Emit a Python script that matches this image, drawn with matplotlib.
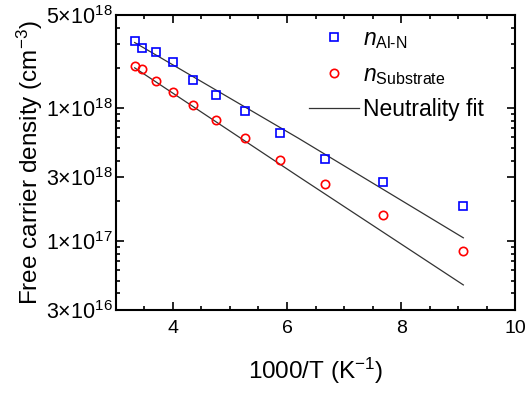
import matplotlib
matplotlib.use("Agg")
import matplotlib.pyplot as plt
import matplotlib.ticker as mticker
import numpy as np

plt.rcParams['font.family'] = ['Liberation Sans', 'DejaVu Sans']
plt.rcParams['mathtext.fontset'] = 'custom'
plt.rcParams['mathtext.rm'] = 'Liberation Sans'
plt.rcParams['mathtext.it'] = 'Liberation Sans:italic'
plt.rcParams['mathtext.default'] = 'regular'

# 1000/T values
invT = [3.33, 3.45, 3.71, 4.00, 4.35, 4.76, 5.26, 5.87, 6.67, 7.69, 9.09]
n_alN = [3.2e18, 2.81e18, 2.61e18, 2.23e18, 1.62e18, 1.24e18, 9.4e17, 6.45e17, 4.13e17, 2.74e17, 1.82e17]
n_sub = [2.05e18, 1.97e18, 1.6e18, 1.31e18, 1.05e18, 8.07e17, 5.93e17, 4.06e17, 2.66e17, 1.57e17, 8.36e16]

# neutrality fits
fit_x = [3.33, 6.2, 9.09]
fit_alN = [3.1e18, 5.9e17, 1.05e17]
fit_sub = [2.0e18, 3.04e17, 4.64e16]

ytick_vals = [3e16, 1e17, 3e17, 1e18, 5e18]
ytick_labels = [r'$3{\times}10^{16}$', r'$1{\times}10^{17}$', r'$3{\times}10^{18}$',
                r'$1{\times}10^{18}$', r'$5{\times}10^{18}$']

fig = plt.figure(figsize=(5.29, 3.94), dpi=100)
ax = fig.add_axes([0.219, 0.213, 0.755, 0.749])

ax.plot(fit_x, fit_alN, color='#333333', lw=0.9, label='Neutrality fit', zorder=1)
ax.plot(fit_x, fit_sub, color='#333333', lw=0.9, zorder=1)
ax.plot(invT, n_alN, 's', mfc='none', mec='blue', ms=5.5, mew=1.2, ls='none',
        label=r'$\mathit{n}_{Al\text{-}N}$', zorder=2)
ax.plot(invT, n_sub, 'o', mfc='none', mec='red', ms=6, mew=1.2, ls='none',
        label=r'$\mathit{n}_{Substrate}$', zorder=2)

ax.set_yscale('log')
ax.set_xlim(3, 10)
ax.set_ylim(3e16, 5e18)

ax.xaxis.set_major_locator(mticker.FixedLocator([4, 6, 8, 10]))
ax.xaxis.set_minor_locator(mticker.MultipleLocator(0.5))
ax.yaxis.set_major_locator(mticker.FixedLocator(ytick_vals))
ax.yaxis.set_major_formatter(mticker.FixedFormatter(ytick_labels))
ax.yaxis.set_minor_locator(mticker.LogLocator(base=10, subs=np.arange(2, 10)))
ax.yaxis.set_minor_formatter(mticker.NullFormatter())

ax.tick_params(which='both', direction='in', top=True, right=True, width=1.2)
ax.tick_params(which='major', length=6, labelsize=14)
ax.tick_params(which='minor', length=3)
ax.tick_params(axis='y', labelsize=15.5, pad=2)
ax.tick_params(axis='x', pad=7)
for s in ax.spines.values():
    s.set_linewidth(1.5)

ax.set_xlabel(r'1000/T (K$^{-1}$)', fontsize=17.5, labelpad=14)
ax.set_ylabel(r'Free carrier density (cm$^{-3}$)', fontsize=17.5, labelpad=1)

h, l = ax.get_legend_handles_labels()
ax.legend([h[1], h[2], h[0]], [l[1], l[2], l[0]], loc='upper right',
          bbox_to_anchor=(0.955, 1.005), frameon=False, fontsize=16.5,
          handlelength=2.2, handletextpad=0.15, labelspacing=0.5, borderaxespad=0.2)

fig.savefig('out.png', dpi=100)
